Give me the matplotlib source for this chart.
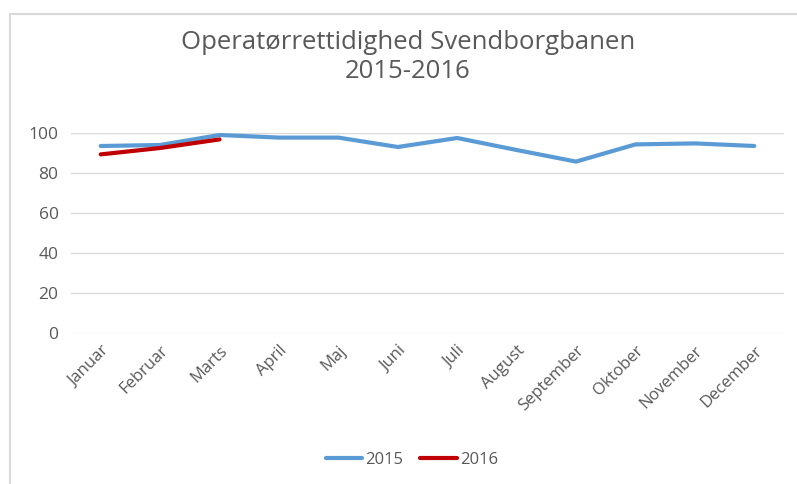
import matplotlib.pyplot as plt
from matplotlib.patches import Rectangle

months = ['Januar', 'Februar', 'Marts', 'April', 'Maj', 'Juni', 'Juli',
          'August', 'September', 'Oktober', 'November', 'December']
values_2015 = [93.5, 94, 99, 97.7, 97.7, 93, 97.5, 91.5, 85.7, 94.3, 94.8, 93.5]
values_2016 = [89.3, 92.5, 96.8]
yticks = [0, 20, 40, 60, 80, 100]

plt.rcParams['font.family'] = ['Open Sans', 'DejaVu Sans']
gray = '#595959'

fig = plt.figure(figsize=(7.97, 4.84), dpi=100)
# chart frame (only top/left edges visible in the original)
fig.patches.append(Rectangle((10 / 797, -0.1), 1.2, 1 - 14 / 484 + 0.1,
                             transform=fig.transFigure, fill=False,
                             edgecolor='#d9d9d9', linewidth=1.5))

ax = fig.add_axes([71 / 797, 1 - 333 / 484, 713 / 797, 200 / 484])
x = range(len(months))
ax.plot(x, values_2015, color='#5b9bd5', linewidth=3, label='2015',
        solid_capstyle='round')
ax.plot(range(len(values_2016)), values_2016, color='#c00000', linewidth=3,
        label='2016', solid_capstyle='round')

ax.set_xlim(-0.5, len(months) - 0.5)
ax.set_ylim(0, 100)
ax.set_yticks(yticks)
ax.set_xticks(list(x))
ax.set_xticklabels(months, rotation=45, ha='right', rotation_mode='anchor')
ax.tick_params(length=0, labelcolor=gray)
ax.tick_params(axis='x', pad=7, labelsize=12)
ax.tick_params(axis='y', pad=9, labelsize=12.5)
ax.grid(axis='y', color='#d9d9d9', linewidth=1)
ax.set_axisbelow(True)
for s in ax.spines.values():
    s.set_visible(False)

fig.text(408 / 797, 1 - 57 / 484, 'Operatørrettidighed Svendborgbanen\n2015-2016',
         ha='center', va='center', fontsize=18.5, color=gray, linespacing=1.25)

fig.legend(loc='center', bbox_to_anchor=(412 / 797, 1 - 460 / 484), ncol=2,
           frameon=False, fontsize=12, labelcolor=gray, handlelength=2.2,
           handletextpad=0.2, columnspacing=1.0)

fig.savefig('out.png', dpi=100)
